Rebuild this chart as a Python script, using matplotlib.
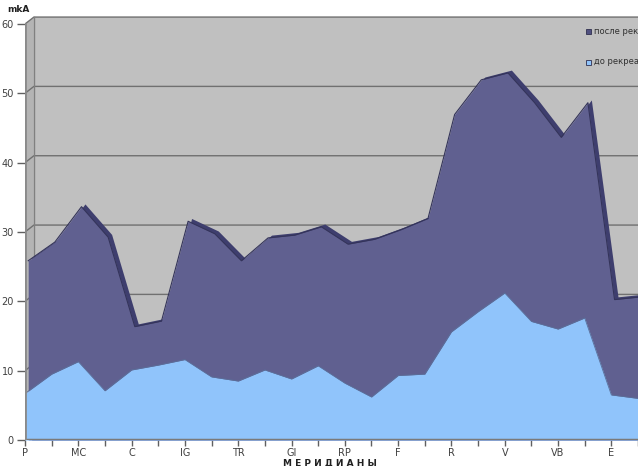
import numpy as np
import matplotlib.pyplot as plt
from matplotlib.patches import Polygon, Rectangle

labels = ['P', '', 'MC', '', 'C', '', 'IG', '', 'TR', '', 'GI', '', 'RP', '',
          'F', '', 'R', '', 'V', '', 'VB', '', 'E', '']
after = [25.5, 28.2, 33.3, 28.9, 16.0, 16.8, 31.2, 29.4, 25.5, 28.8, 29.2, 30.4,
         27.9, 28.6, 30.0, 31.6, 46.6, 51.6, 52.6, 48.3, 43.3, 48.3, 19.9, 20.3]
before = [6.7, 9.5, 11.3, 7.1, 10.1, 10.8, 11.6, 9.1, 8.5, 10.1, 8.8, 10.7,
          8.2, 6.2, 9.3, 9.5, 15.6, 18.5, 21.2, 17.1, 16.0, 17.6, 6.5, 6.0]
yticks = [0, 10, 20, 30, 40, 50, 60]

W, H = 638, 466
step = 26.95          # px per category
ppu = 416 / 60.0      # px per mkA
x = np.arange(len(after))

fig = plt.figure(figsize=(W / 100, H / 100), dpi=100)
ax = fig.add_axes([25 / W, 26 / H, (W - 25) / W, 62 * ppu / H])
ax.set_xlim(0, (W - 25) / step)
ax.set_ylim(0, 62)
for s in ax.spines.values():
    s.set_visible(False)

# 3d walls
dx, dy = 9 / step, 1.0
xmax = (W - 25) / step + 1
ax.add_patch(Polygon([(dx, dy), (dx, 60 + dy), (xmax, 60 + dy), (xmax, dy)],
                     closed=True, fc='#c0c0c0', ec='none', zorder=0))
ax.add_patch(Polygon([(0, 0), (0, 60), (dx, 60 + dy), (dx, dy)],
                     closed=True, fc='#b4b4b4', ec='none', zorder=0))
for g in yticks[1:]:
    ax.plot([0, dx, xmax], [g, g + dy, g + dy], color='#707070', lw=1, zorder=1)
ax.plot([dx, dx], [dy, 60 + dy], color='#808080', lw=1, zorder=1)

# series behind (после рекреации)
xa = x + 0.12
ya = np.array(after) + 0.35
ax.fill_between(x + 0.25, 0, np.array(after) + 0.75, color='#3e3e6e', lw=0, zorder=2)
ax.fill_between(xa, 0, ya, color='#606090', lw=0, zorder=3)
ax.plot(xa, ya, color='#34345a', lw=0.8, zorder=3)

# series in front (до рекреации)
ax.fill_between(x, 0, before, color='#90c4fb', lw=0, zorder=4)
ax.plot(x, before, color='#5a6f9a', lw=0.6, zorder=4)

# floor and axis
ax.plot([0, xmax], [0, 0], color='#7a7a7a', lw=2.5, zorder=5, solid_capstyle='butt')
ax.plot([0, 0], [0, 60], color='#8a8a8a', lw=2, zorder=5)

ax.set_xticks(x)
ax.set_xticklabels(labels)
ax.set_yticks(yticks)
ax.tick_params(axis='x', length=4, width=1, color='#606060', labelsize=7,
               labelcolor='#404040', pad=2)
ax.tick_params(axis='y', length=6, width=1, color='#606060', labelsize=7,
               labelcolor='#404040', pad=2)

fig.text(18 / W, 1 - 10 / H, 'mkA', fontsize=6.5, fontweight='bold',
         ha='center', va='center', color='#202020')
fig.text(330 / W, 1 - 462.5 / H, 'М Е Р И Д И А Н Ы', fontsize=6.5,
         fontweight='bold', ha='center', va='center', color='#202020')

# legend
for yy, c, t in [(31, '#505080', 'после рекреации'), (62, '#90c4fb', 'до рекреации')]:
    fig.patches.append(Rectangle((586 / W, 1 - (yy + 3) / H), 5 / W, 5 / H,
                                 transform=fig.transFigure, fc=c,
                                 ec='#303050', lw=0.6))
    fig.text(594 / W, 1 - yy / H, t, fontsize=6, ha='left', va='center',
             color='#303030')

fig.savefig('out.png', dpi=100)
